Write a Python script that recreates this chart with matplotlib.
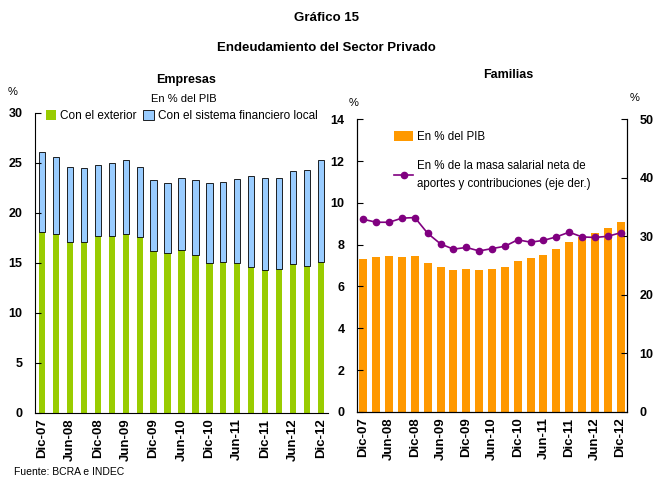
import matplotlib
matplotlib.use('Agg')
import matplotlib.pyplot as plt
from matplotlib.lines import Line2D
from matplotlib.patches import Patch
import numpy as np

plt.rcParams['font.family'] = ['Liberation Sans', 'DejaVu Sans']

periodos = ['Dic-07', 'Mar-08', 'Jun-08', 'Sep-08', 'Dic-08', 'Mar-09', 'Jun-09', 'Sep-09',
            'Dic-09', 'Mar-10', 'Jun-10', 'Sep-10', 'Dic-10', 'Mar-11', 'Jun-11', 'Sep-11',
            'Dic-11', 'Mar-12', 'Jun-12', 'Sep-12', 'Dic-12']

# Empresas, % del PIB
con_exterior = [18.1, 17.9, 17.1, 17.1, 17.7, 17.7, 17.9, 17.6, 16.2, 16.0, 16.3,
                15.8, 15.0, 15.1, 15.0, 14.6, 14.3, 14.4, 14.9, 14.7, 15.1]
total_empresas = [26.1, 25.6, 24.6, 24.5, 24.8, 25.0, 25.3, 24.6, 23.3, 23.0, 23.5,
                  23.3, 23.0, 23.1, 23.4, 23.7, 23.5, 23.5, 24.2, 24.3, 25.3]
con_sistema_local = [t - e for t, e in zip(total_empresas, con_exterior)]

# Familias
familias_pib = [7.30, 7.41, 7.46, 7.39, 7.46, 7.10, 6.93, 6.77, 6.86, 6.77, 6.82,
                6.93, 7.20, 7.34, 7.50, 7.79, 8.11, 8.37, 8.56, 8.80, 9.07]
familias_masa_salarial = [32.9, 32.4, 32.4, 33.1, 33.2, 30.5, 28.7, 27.8, 28.1, 27.5, 27.9,
                          28.3, 29.4, 29.0, 29.3, 29.9, 30.7, 29.9, 29.8, 30.0, 30.6]

verde = '#99CC00'
celeste = '#99CCFF'
naranja = '#FF9900'
violeta = '#800080'

x = np.arange(len(periodos))
ticks = x[::2]
ticklabels = periodos[::2]

fig = plt.figure(figsize=(6.53, 4.8), dpi=100)

fig.text(0.5, 0.962, 'Gráfico 15', ha='center', va='center', fontsize=9.5, fontweight='bold')
fig.text(0.5, 0.900, 'Endeudamiento del Sector Privado', ha='center', va='center',
         fontsize=9.5, fontweight='bold')
fig.text(0.021, 0.017, 'Fuente: BCRA e INDEC', ha='left', va='center', fontsize=7.5)


def estilo_y(ax):
    ax.tick_params(axis='y', direction='in', length=4, labelsize=9, pad=9)
    for lab in ax.get_yticklabels():
        lab.set_fontweight('bold')


# ---- Empresas
ax1 = fig.add_axes([0.0536, 0.1396, 0.4487, 0.625])
ax1.bar(x, con_exterior, width=0.45, color=verde, linewidth=0)
ax1.bar(x, con_sistema_local, width=0.45, bottom=con_exterior, color=celeste,
        edgecolor='black', linewidth=0.6)
ax1.set_xlim(-0.5, len(x) - 0.5)
ax1.set_ylim(0, 30)
ax1.set_yticks([0, 5, 10, 15, 20, 25, 30])
ax1.set_xticks(ticks)
ax1.set_xticklabels(ticklabels, rotation=90, fontsize=9.5, fontweight='bold')
ax1.tick_params(axis='x', length=0, pad=4)
estilo_y(ax1)
ax1.spines['top'].set_visible(False)
ax1.spines['right'].set_visible(False)
ax1.legend(handles=[Patch(facecolor=verde, edgecolor='none', label='Con el exterior'),
                    Patch(facecolor=celeste, edgecolor='black', linewidth=0.6,
                          label='Con el sistema financiero local')],
           loc='upper left', bbox_to_anchor=(0.0, 1.045), ncol=2, frameon=False,
           fontsize=8.5, handlelength=0.9, handleheight=0.9, handletextpad=0.3,
           columnspacing=0.6)
fig.text(0.285, 0.833, 'Empresas', ha='center', va='center', fontsize=9, fontweight='bold')
fig.text(0.282, 0.794, 'En % del PIB', ha='center', va='center', fontsize=8)
fig.text(0.020, 0.808, '%', ha='center', va='center', fontsize=8)

# ---- Familias
ax2 = fig.add_axes([0.5467, 0.1417, 0.4135, 0.610])
ax2.bar(x, familias_pib, width=0.62, color=naranja, linewidth=0)
ax2.set_xlim(-0.5, len(x) - 0.5)
ax2.set_ylim(0, 14)
ax2.set_yticks(range(0, 15, 2))
ax2.set_xticks(ticks)
ax2.set_xticklabels(ticklabels, rotation=90, fontsize=9.5, fontweight='bold')
ax2.tick_params(axis='x', length=0, pad=4)
estilo_y(ax2)
ax2.spines['top'].set_visible(False)

ax3 = ax2.twinx()
ax3.plot(x, familias_masa_salarial, color=violeta, marker='o', markersize=4.5, linewidth=1.2)
ax3.set_ylim(0, 50)
ax3.set_yticks(range(0, 51, 10))
estilo_y(ax3)
ax3.spines['top'].set_visible(False)

ax2.legend(handles=[Patch(facecolor=naranja, edgecolor='none', label='En % del PIB')],
           loc='upper left', bbox_to_anchor=(0.1, 0.995), frameon=False, fontsize=8.3,
           handlelength=1.6, handleheight=0.9, handletextpad=0.4)
ax3.legend(handles=[Line2D([0], [0], color=violeta, marker='o', markersize=4.5, linewidth=1.2,
                           label='En % de la masa salarial neta de\naportes y contribuciones (eje der.)')],
           loc='upper left', bbox_to_anchor=(0.1, 0.895), frameon=False, fontsize=8.3,
           handlelength=1.6, handletextpad=0.4, labelspacing=0)
for t in ax3.get_legend().get_texts():
    t.set_linespacing(1.6)
fig.text(0.778, 0.844, 'Familias', ha='center', va='center', fontsize=9, fontweight='bold')
fig.text(0.541, 0.785, '%', ha='center', va='center', fontsize=8)
fig.text(0.971, 0.796, '%', ha='center', va='center', fontsize=8)

plt.savefig('out.png', dpi=100)
